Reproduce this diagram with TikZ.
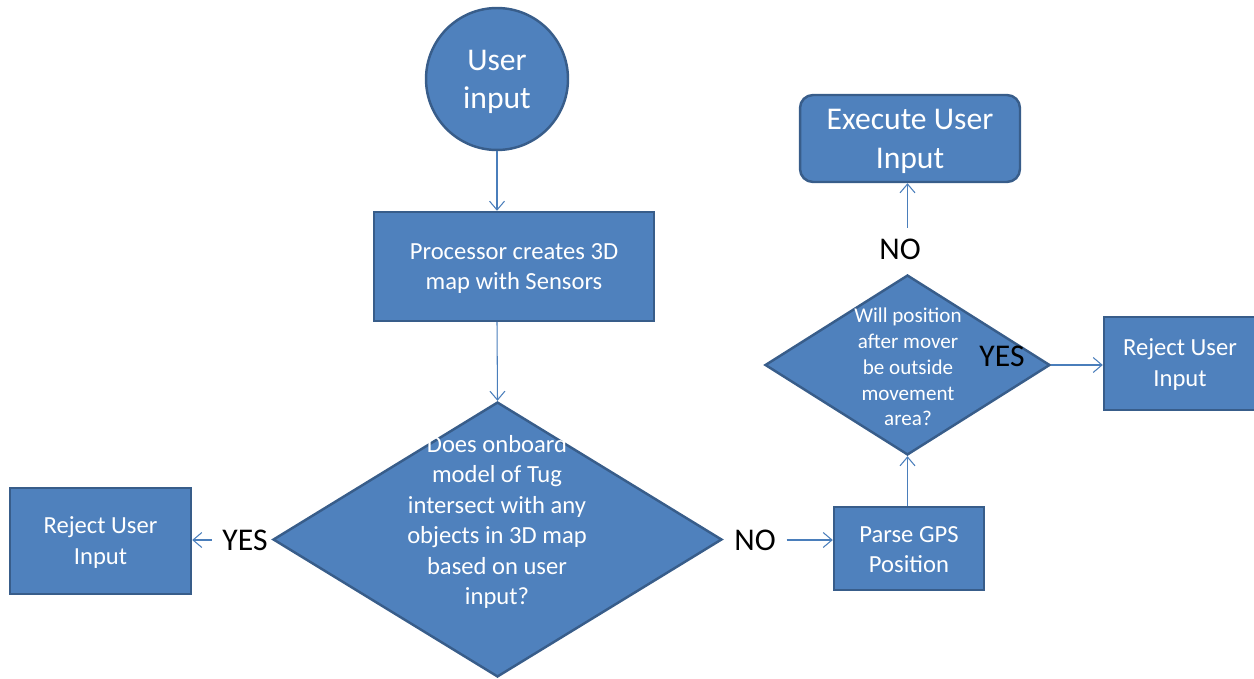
\documentclass[tikz,border=0pt]{standalone}
\usepackage{fontspec}
\setmainfont{Carlito}
\usetikzlibrary{shapes.geometric,arrows.meta}
\definecolor{boxfill}{HTML}{4F81BD}
\definecolor{boxline}{HTML}{385D8A}
\definecolor{arrowc}{HTML}{4A7EBB}
\tikzset{
  shapebox/.style={draw=boxline, fill=boxfill, line width=1.4pt, text=white, align=center, inner sep=0pt},
  conn/.style={draw=arrowc, line width=0.6pt, -{Straight Barb[length=5pt,width=8.5pt]}},
  lbl/.style={text=black, font=\fontsize{18}{22}\selectfont, inner sep=6pt},
  fsbig/.style={font=\fontsize{18}{21.8}\selectfont},
  fsmid/.style={font=\fontsize{14}{17.4}\selectfont},
  fssmall/.style={font=\fontsize{12}{14.7}\selectfont},
  wtext/.style={text=white, align=center, inner sep=0pt}
}
\begin{document}
\begin{tikzpicture}[x=0.02cm,y=-0.02cm]
\useasboundingbox (0,0) rectangle (1254,679);
\clip (0,0) rectangle (1254,679);

% shapes
\node[shapebox, circle, minimum size=2.84cm] (user) at (497,79) {};
\node[wtext, fsbig] (usert) at (497,82) {User\\input};
\node[shapebox, rectangle, minimum width=5.6cm, minimum height=2.18cm] (proc) at (514,266.5) {};
\node[wtext, fsmid] (proct) at (514,268.5) {Processor creates 3D\\map with Sensors};
\node[shapebox, diamond, minimum width=8.98cm, minimum height=5.5cm] (dec1) at (497.5,539.5) {};
\node[wtext, fsmid] (dec1t) at (497,522) {Does onboard\\model of Tug\\intersect with any\\objects in 3D map\\based on user\\input?};
\node[shapebox, rectangle, minimum width=3.62cm, minimum height=2.12cm] (rej1) at (100.5,541) {};
\node[wtext, fsmid] (rej1t) at (100.5,542.5) {Reject User\\Input};
\node[shapebox, rectangle, minimum width=3.0cm, minimum height=1.66cm] (parse) at (909,548.5) {};
\node[wtext, fsmid] (parset) at (909,549.5) {Parse GPS\\Position};
\node[shapebox, diamond, minimum width=5.7cm, minimum height=3.6cm] (dec2) at (907.5,365) {};
\node[wtext, fssmall] (dec2t) at (908,367) {Will position\\after mover\\be outside\\movement\\area?};
\node[shapebox, rectangle, rounded corners=0.26cm, minimum width=4.4cm, minimum height=1.74cm] (exec) at (910,138.5) {};
\node[wtext, fsbig] (exect) at (910,141.5) {Execute User\\Input};
\node[shapebox, rectangle, minimum width=3.04cm, minimum height=1.86cm] (rej2) at (1180,363.5) {};
\node[wtext, fsmid] (rej2t) at (1180,364.5) {Reject User\\Input};

% labels
\node[lbl] (yes1) at (245,540) {YES};
\node[lbl] (no1) at (755,540) {NO};
\node[lbl] (no2) at (900,249) {NO};
\node[lbl] (yes2) at (1002,356) {YES};

% connectors
\draw[conn] (user.south) -- (user.south |- proc.north);
\draw[conn] (user.south |- proc.south) -- (dec1.north);
\draw[conn] (yes1.west) -- (yes1.west -| rej1.east);
\draw[conn] (no1.east) -- (no1.east -| parse.west);
\draw[conn] (dec2.south |- parse.north) -- (dec2.south);
\draw[conn] (dec2.north |- no2.north) -- (dec2.north |- exec.south);
\draw[conn] (dec2.east) -- (dec2.east -| rej2.west);
\end{tikzpicture}
\end{document}
